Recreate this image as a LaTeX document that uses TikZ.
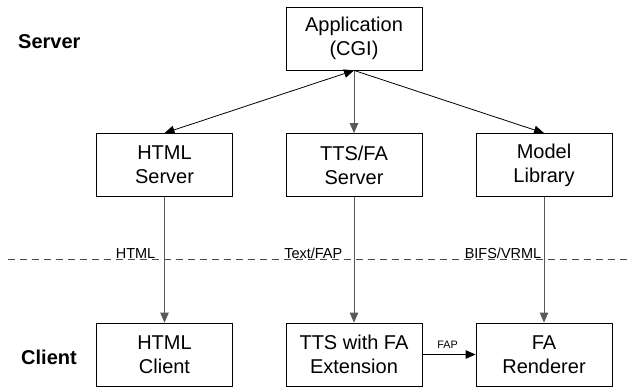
\documentclass[tikz,border=0pt]{standalone}
\usepackage{fontspec}
\setmainfont{Liberation Sans}
\usetikzlibrary{arrows.meta}
\begin{document}
\begin{tikzpicture}[x=1pt,y=-1pt,
  box/.style={draw, line width=0.8pt, minimum width=136pt, minimum height=63pt, inner sep=0pt, align=center, font=\fontsize{20}{24}\selectfont},
  tipline/.style={line width=0.8pt, -{Triangle[length=10pt,width=8.5pt]}},
  grayline/.style={tipline, draw=black!65},
  side/.style={font=\bfseries\fontsize{20}{24}\selectfont, anchor=base west, inner sep=0pt},
  lbl/.style={font=\fontsize{14.5}{16}\selectfont, anchor=base east, inner sep=0pt},
  divider/.style={line width=0.8pt, black!70, dash pattern=on 7pt off 5pt}]
\useasboundingbox (0,0) rectangle (631,388);

\node[box] (app) at (354,38.5) {Application\\(CGI)};
\node[box] (hs) at (164.5,165) {HTML\\Server};
\node[box] (ts) at (354,165) {TTS/FA\\Server};
\node[box] (ml) at (544,165) {Model\\Library};
\node[box] (hc) at (164.5,354.5) {HTML\\Client};
\node[box] (tc) at (354,354.5) {TTS with FA\\Extension};
\node[box] (fr) at (544,354.5) {FA\\Renderer};

\node[side] (srv) at (18,48) {Server};
\node[side] (cli) at (21,364) {Client};

\coordinate (dl) at (8,259.5);
\coordinate (dr) at (631,259.5);
\draw[divider] (dl) -- (dr);

\draw[tipline, {Triangle[length=10pt,width=8.5pt]}-{Triangle[length=10pt,width=8.5pt]}] (hs.north) -- (app.south);
\draw[grayline] (app.south) -- (ts.north);
\draw[tipline] (app.south) -- (ml.north);

\draw[grayline] (hs.south) -- (hc.north);
\draw[grayline] (ts.south) -- (tc.north);
\draw[grayline] (ml.south) -- (fr.north);
\draw[tipline] (tc.east) -- (fr.west);

\node[lbl] (l1) at (155.5,258) {HTML};
\node[lbl] (l2) at (342.5,258) {Text/FAP};
\node[lbl] (l3) at (541.5,258) {BIFS/VRML};
\node[font=\fontsize{10.8}{12}\selectfont, anchor=base, inner sep=0pt] (l4) at (447.5,348) {FAP};
\end{tikzpicture}
\end{document}
